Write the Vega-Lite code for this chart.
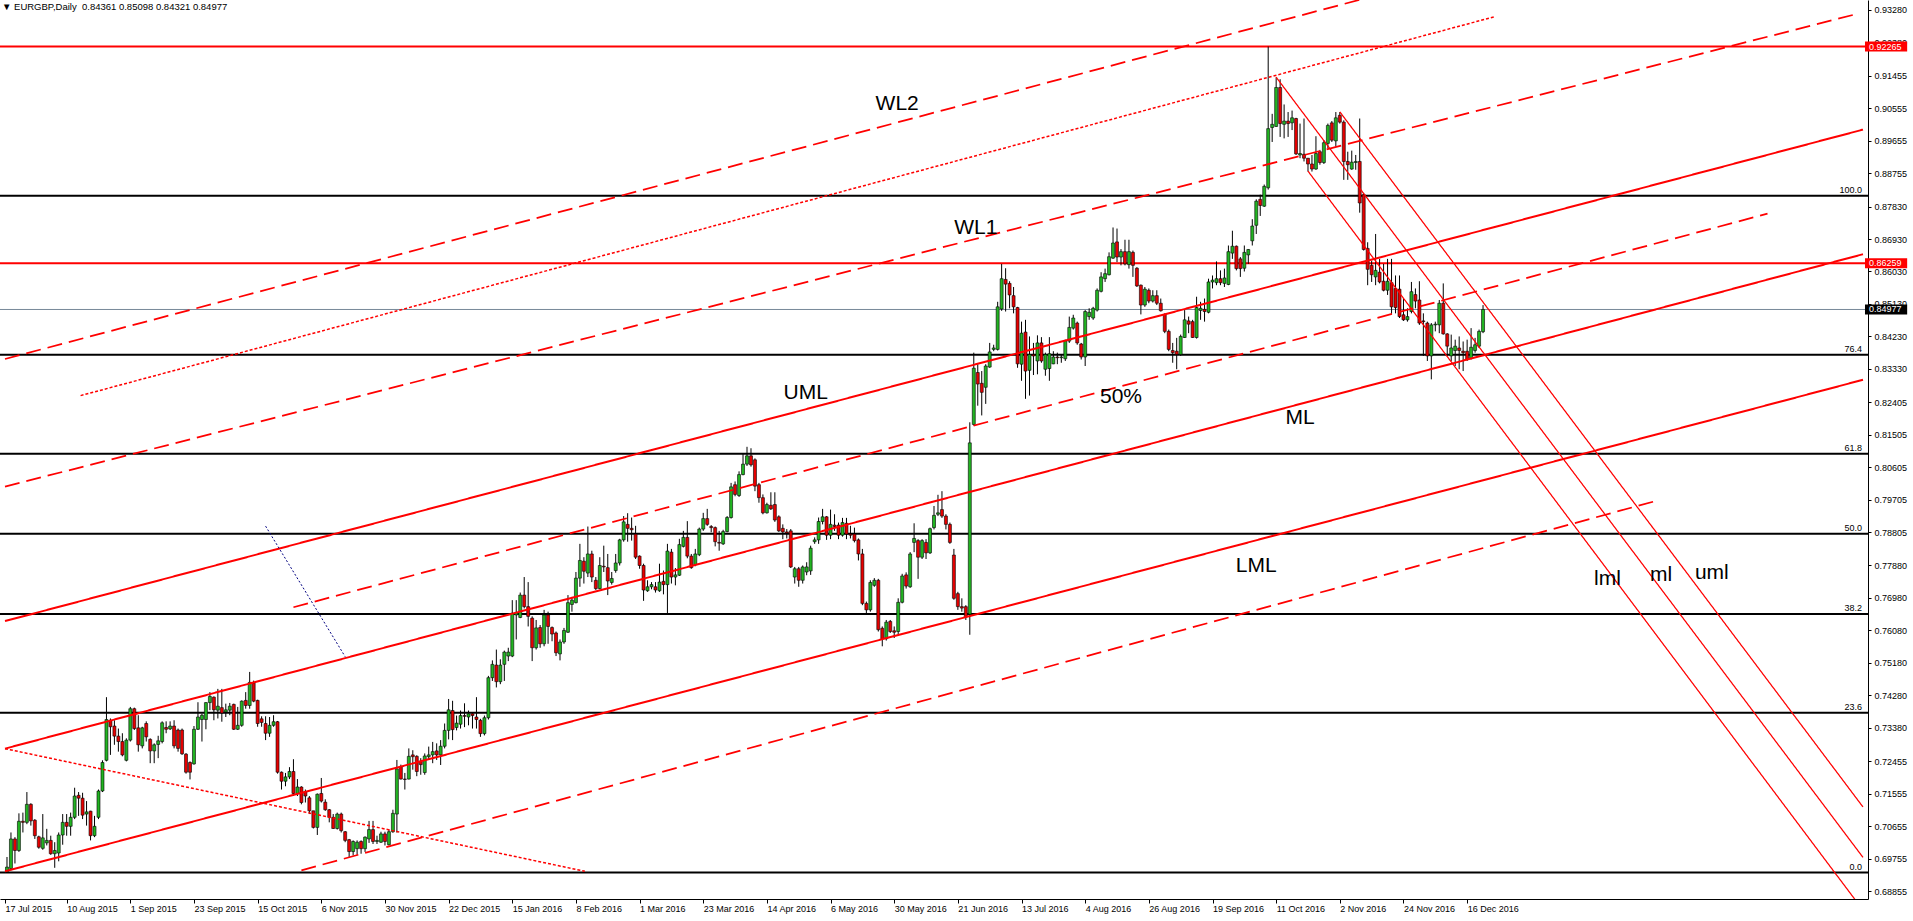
{
  "$schema": "https://vega.github.io/schema/vega-lite/v6.json",
  "width": 1868,
  "height": 899,
  "autosize": "none",
  "padding": {"left": 0, "top": 0, "right": 45, "bottom": 22},
  "background": "#ffffff",
  "title": {
    "text": "\u25bc EURGBP,Daily\u00a0 0.84361 0.85098 0.84321 0.84977",
    "anchor": "start", "frame": "group", "offset": -11, "dx": 2,
    "font": "Liberation Sans", "fontSize": 9.5, "fontWeight": "normal", "color": "#000000"
  },
  "config": {
    "view": {"stroke": null},
    "axis": {"grid": false, "labelOverlap": false}
  },
  "datasets": {
    "candles": [
      {"o":0.6939,"h":0.6980,"l":0.6937,"c":0.6952},{"o":0.6948,"h":0.7048,"l":0.6943,"c":0.7030},{"o":0.7030,"h":0.7035,"l":0.6962,"c":0.6998},{"o":0.6998,"h":0.7101,"l":0.6994,"c":0.7079},
      {"o":0.7079,"h":0.7103,"l":0.7048,"c":0.7076},{"o":0.7076,"h":0.7160,"l":0.7071,"c":0.7126},{"o":0.7126,"h":0.7129,"l":0.7067,"c":0.7080},{"o":0.7082,"h":0.7085,"l":0.7030,"c":0.7039},
      {"o":0.7036,"h":0.7039,"l":0.7003,"c":0.7007},{"o":0.7004,"h":0.7099,"l":0.7000,"c":0.7033},{"o":0.7019,"h":0.7058,"l":0.7012,"c":0.7026},{"o":0.7026,"h":0.7039,"l":0.6986,"c":0.6989},
      {"o":0.6989,"h":0.7021,"l":0.6950,"c":0.6998},{"o":0.6991,"h":0.7048,"l":0.6968,"c":0.7041},{"o":0.7041,"h":0.7099,"l":0.7014,"c":0.7076},{"o":0.7076,"h":0.7099,"l":0.7039,"c":0.7065},
      {"o":0.7065,"h":0.7103,"l":0.7039,"c":0.7090},{"o":0.7090,"h":0.7172,"l":0.7085,"c":0.7149},{"o":0.7151,"h":0.7160,"l":0.7094,"c":0.7143},{"o":0.7143,"h":0.7158,"l":0.7085,"c":0.7096},
      {"o":0.7099,"h":0.7135,"l":0.7067,"c":0.7105},{"o":0.7107,"h":0.7108,"l":0.7026,"c":0.7039},{"o":0.7039,"h":0.7094,"l":0.7035,"c":0.7065},{"o":0.7090,"h":0.7167,"l":0.7085,"c":0.7163},
      {"o":0.7163,"h":0.7248,"l":0.7160,"c":0.7242},{"o":0.7248,"h":0.7423,"l":0.7245,"c":0.7361},{"o":0.7359,"h":0.7364,"l":0.7263,"c":0.7341},{"o":0.7343,"h":0.7359,"l":0.7291,"c":0.7315},
      {"o":0.7315,"h":0.7336,"l":0.7272,"c":0.7300},{"o":0.7300,"h":0.7323,"l":0.7259,"c":0.7263},{"o":0.7248,"h":0.7309,"l":0.7245,"c":0.7304},{"o":0.7304,"h":0.7396,"l":0.7300,"c":0.7391},
      {"o":0.7391,"h":0.7394,"l":0.7332,"c":0.7336},{"o":0.7338,"h":0.7373,"l":0.7272,"c":0.7291},{"o":0.7288,"h":0.7341,"l":0.7281,"c":0.7338},{"o":0.7350,"h":0.7356,"l":0.7300,"c":0.7313},
      {"o":0.7306,"h":0.7309,"l":0.7240,"c":0.7274},{"o":0.7274,"h":0.7295,"l":0.7240,"c":0.7291},{"o":0.7292,"h":0.7316,"l":0.7254,"c":0.7302},{"o":0.7300,"h":0.7356,"l":0.7295,"c":0.7352},
      {"o":0.7339,"h":0.7356,"l":0.7323,"c":0.7334},{"o":0.7335,"h":0.7356,"l":0.7332,"c":0.7343},{"o":0.7343,"h":0.7359,"l":0.7281,"c":0.7288},{"o":0.7332,"h":0.7336,"l":0.7272,"c":0.7281},
      {"o":0.7332,"h":0.7336,"l":0.7263,"c":0.7266},{"o":0.7265,"h":0.7268,"l":0.7211,"c":0.7215},{"o":0.7242,"h":0.7245,"l":0.7195,"c":0.7215},{"o":0.7238,"h":0.7343,"l":0.7236,"c":0.7334},
      {"o":0.7334,"h":0.7409,"l":0.7332,"c":0.7368},{"o":0.7361,"h":0.7377,"l":0.7300,"c":0.7373},{"o":0.7361,"h":0.7409,"l":0.7334,"c":0.7408},{"o":0.7408,"h":0.7437,"l":0.7387,"c":0.7425},
      {"o":0.7423,"h":0.7425,"l":0.7359,"c":0.7388},{"o":0.7387,"h":0.7446,"l":0.7364,"c":0.7398},{"o":0.7394,"h":0.7446,"l":0.7355,"c":0.7379},{"o":0.7382,"h":0.7405,"l":0.7368,"c":0.7388},
      {"o":0.7387,"h":0.7407,"l":0.7373,"c":0.7398},{"o":0.7403,"h":0.7405,"l":0.7332,"c":0.7334},{"o":0.7334,"h":0.7396,"l":0.7332,"c":0.7345},{"o":0.7345,"h":0.7414,"l":0.7341,"c":0.7412},
      {"o":0.7414,"h":0.7437,"l":0.7391,"c":0.7400},{"o":0.7400,"h":0.7493,"l":0.7391,"c":0.7464},{"o":0.7462,"h":0.7469,"l":0.7409,"c":0.7412},{"o":0.7414,"h":0.7416,"l":0.7341,"c":0.7350},
      {"o":0.7363,"h":0.7370,"l":0.7341,"c":0.7353},{"o":0.7350,"h":0.7370,"l":0.7304,"c":0.7323},{"o":0.7323,"h":0.7368,"l":0.7313,"c":0.7345},{"o":0.7345,"h":0.7373,"l":0.7341,"c":0.7355},
      {"o":0.7355,"h":0.7357,"l":0.7211,"c":0.7215},{"o":0.7215,"h":0.7217,"l":0.7167,"c":0.7190},{"o":0.7190,"h":0.7213,"l":0.7176,"c":0.7202},{"o":0.7202,"h":0.7229,"l":0.7196,"c":0.7217},
      {"o":0.7217,"h":0.7251,"l":0.7149,"c":0.7156},{"o":0.7156,"h":0.7196,"l":0.7149,"c":0.7174},{"o":0.7174,"h":0.7176,"l":0.7126,"c":0.7131},{"o":0.7160,"h":0.7167,"l":0.7131,"c":0.7149},
      {"o":0.7144,"h":0.7149,"l":0.7099,"c":0.7108},{"o":0.7108,"h":0.7108,"l":0.7059,"c":0.7062},{"o":0.7062,"h":0.7156,"l":0.7041,"c":0.7154},{"o":0.7156,"h":0.7199,"l":0.7131,"c":0.7135},
      {"o":0.7132,"h":0.7140,"l":0.7108,"c":0.7111},{"o":0.7111,"h":0.7113,"l":0.7076,"c":0.7090},{"o":0.7090,"h":0.7099,"l":0.7058,"c":0.7059},{"o":0.7059,"h":0.7103,"l":0.7056,"c":0.7099},
      {"o":0.7099,"h":0.7103,"l":0.7048,"c":0.7053},{"o":0.7050,"h":0.7052,"l":0.7021,"c":0.7026},{"o":0.7028,"h":0.7030,"l":0.6980,"c":0.6995},{"o":0.6995,"h":0.7026,"l":0.6984,"c":0.7023},
      {"o":0.7003,"h":0.7026,"l":0.6986,"c":0.7021},{"o":0.7023,"h":0.7026,"l":0.6989,"c":0.7003},{"o":0.7003,"h":0.7037,"l":0.6994,"c":0.7035},{"o":0.7030,"h":0.7080,"l":0.7019,"c":0.7056},
      {"o":0.7056,"h":0.7080,"l":0.7016,"c":0.7023},{"o":0.7023,"h":0.7039,"l":0.7016,"c":0.7026},{"o":0.7021,"h":0.7050,"l":0.7019,"c":0.7044},{"o":0.7044,"h":0.7050,"l":0.7012,"c":0.7023},
      {"o":0.7014,"h":0.7056,"l":0.7012,"c":0.7050},{"o":0.7050,"h":0.7111,"l":0.7047,"c":0.7101},{"o":0.7099,"h":0.7249,"l":0.7048,"c":0.7224},{"o":0.7229,"h":0.7236,"l":0.7195,"c":0.7196},
      {"o":0.7196,"h":0.7213,"l":0.7167,"c":0.7195},{"o":0.7196,"h":0.7281,"l":0.7195,"c":0.7259},{"o":0.7263,"h":0.7276,"l":0.7222,"c":0.7258},{"o":0.7259,"h":0.7262,"l":0.7204,"c":0.7217},
      {"o":0.7245,"h":0.7254,"l":0.7208,"c":0.7236},{"o":0.7214,"h":0.7267,"l":0.7208,"c":0.7260},{"o":0.7258,"h":0.7286,"l":0.7249,"c":0.7263},{"o":0.7263,"h":0.7299,"l":0.7240,"c":0.7272},
      {"o":0.7274,"h":0.7295,"l":0.7249,"c":0.7263},{"o":0.7263,"h":0.7304,"l":0.7235,"c":0.7287},{"o":0.7287,"h":0.7350,"l":0.7281,"c":0.7331},{"o":0.7331,"h":0.7418,"l":0.7306,"c":0.7388},
      {"o":0.7386,"h":0.7413,"l":0.7304,"c":0.7333},{"o":0.7339,"h":0.7372,"l":0.7331,"c":0.7351},{"o":0.7348,"h":0.7386,"l":0.7336,"c":0.7372},{"o":0.7372,"h":0.7406,"l":0.7340,"c":0.7370},
      {"o":0.7368,"h":0.7386,"l":0.7345,"c":0.7377},{"o":0.7377,"h":0.7381,"l":0.7336,"c":0.7372},{"o":0.7368,"h":0.7423,"l":0.7336,"c":0.7361},{"o":0.7359,"h":0.7363,"l":0.7313,"c":0.7322},
      {"o":0.7322,"h":0.7372,"l":0.7317,"c":0.7366},{"o":0.7366,"h":0.7482,"l":0.7361,"c":0.7477},{"o":0.7477,"h":0.7525,"l":0.7468,"c":0.7514},{"o":0.7512,"h":0.7555,"l":0.7450,"c":0.7466},
      {"o":0.7466,"h":0.7528,"l":0.7459,"c":0.7512},{"o":0.7514,"h":0.7552,"l":0.7468,"c":0.7548},{"o":0.7537,"h":0.7560,"l":0.7523,"c":0.7548},{"o":0.7537,"h":0.7692,"l":0.7534,"c":0.7656},
      {"o":0.7651,"h":0.7692,"l":0.7583,"c":0.7658},{"o":0.7644,"h":0.7713,"l":0.7642,"c":0.7706},{"o":0.7706,"h":0.7756,"l":0.7669,"c":0.7674},{"o":0.7674,"h":0.7742,"l":0.7619,"c":0.7647},
      {"o":0.7642,"h":0.7647,"l":0.7523,"c":0.7560},{"o":0.7560,"h":0.7637,"l":0.7555,"c":0.7615},{"o":0.7616,"h":0.7623,"l":0.7560,"c":0.7571},{"o":0.7571,"h":0.7665,"l":0.7564,"c":0.7651},
      {"o":0.7651,"h":0.7660,"l":0.7571,"c":0.7619},{"o":0.7616,"h":0.7619,"l":0.7578,"c":0.7598},{"o":0.7601,"h":0.7605,"l":0.7537,"c":0.7546},{"o":0.7543,"h":0.7583,"l":0.7525,"c":0.7576},
      {"o":0.7576,"h":0.7615,"l":0.7571,"c":0.7608},{"o":0.7603,"h":0.7706,"l":0.7601,"c":0.7685},{"o":0.7680,"h":0.7701,"l":0.7660,"c":0.7692},{"o":0.7685,"h":0.7770,"l":0.7683,"c":0.7753},
      {"o":0.7753,"h":0.7848,"l":0.7729,"c":0.7802},{"o":0.7800,"h":0.7811,"l":0.7738,"c":0.7772},{"o":0.7767,"h":0.7896,"l":0.7756,"c":0.7820},{"o":0.7820,"h":0.7829,"l":0.7742,"c":0.7756},
      {"o":0.7747,"h":0.7756,"l":0.7720,"c":0.7724},{"o":0.7724,"h":0.7811,"l":0.7722,"c":0.7788},{"o":0.7786,"h":0.7843,"l":0.7770,"c":0.7784},{"o":0.7782,"h":0.7820,"l":0.7706,"c":0.7745},
      {"o":0.7741,"h":0.7770,"l":0.7735,"c":0.7752},{"o":0.7774,"h":0.7820,"l":0.7768,"c":0.7795},{"o":0.7795,"h":0.7862,"l":0.7788,"c":0.7859},{"o":0.7859,"h":0.7925,"l":0.7854,"c":0.7909},
      {"o":0.7902,"h":0.7933,"l":0.7854,"c":0.7891},{"o":0.7891,"h":0.7921,"l":0.7857,"c":0.7887},{"o":0.7875,"h":0.7898,"l":0.7806,"c":0.7811},{"o":0.7814,"h":0.7816,"l":0.7779,"c":0.7788},
      {"o":0.7788,"h":0.7793,"l":0.7690,"c":0.7720},{"o":0.7718,"h":0.7747,"l":0.7715,"c":0.7729},{"o":0.7729,"h":0.7742,"l":0.7722,"c":0.7735},{"o":0.7729,"h":0.7742,"l":0.7713,"c":0.7720},
      {"o":0.7718,"h":0.7793,"l":0.7715,"c":0.7742},{"o":0.7744,"h":0.7774,"l":0.7708,"c":0.7735},{"o":0.7735,"h":0.7848,"l":0.7656,"c":0.7828},{"o":0.7825,"h":0.7834,"l":0.7738,"c":0.7756},
      {"o":0.7756,"h":0.7781,"l":0.7733,"c":0.7762},{"o":0.7761,"h":0.7862,"l":0.7759,"c":0.7846},{"o":0.7841,"h":0.7884,"l":0.7838,"c":0.7866},{"o":0.7866,"h":0.7911,"l":0.7808,"c":0.7814},
      {"o":0.7814,"h":0.7820,"l":0.7779,"c":0.7782},{"o":0.7790,"h":0.7834,"l":0.7786,"c":0.7820},{"o":0.7818,"h":0.7893,"l":0.7814,"c":0.7889},{"o":0.7889,"h":0.7934,"l":0.7884,"c":0.7918},
      {"o":0.7918,"h":0.7945,"l":0.7898,"c":0.7902},{"o":0.7896,"h":0.7900,"l":0.7880,"c":0.7893},{"o":0.7893,"h":0.7896,"l":0.7841,"c":0.7854},{"o":0.7852,"h":0.7884,"l":0.7829,"c":0.7850},
      {"o":0.7848,"h":0.7887,"l":0.7845,"c":0.7882},{"o":0.7882,"h":0.7925,"l":0.7880,"c":0.7921},{"o":0.7921,"h":0.8017,"l":0.7918,"c":0.8006},{"o":0.8012,"h":0.8021,"l":0.7980,"c":0.7985},
      {"o":0.7982,"h":0.8049,"l":0.7978,"c":0.8040},{"o":0.8040,"h":0.8099,"l":0.8038,"c":0.8069},{"o":0.8069,"h":0.8117,"l":0.8064,"c":0.8092},{"o":0.8092,"h":0.8113,"l":0.8062,"c":0.8067},
      {"o":0.8081,"h":0.8085,"l":0.7994,"c":0.8008},{"o":0.8012,"h":0.8017,"l":0.7962,"c":0.7976},{"o":0.7976,"h":0.7985,"l":0.7930,"c":0.7934},{"o":0.7934,"h":0.7962,"l":0.7932,"c":0.7957},
      {"o":0.7955,"h":0.7991,"l":0.7942,"c":0.7945},{"o":0.7957,"h":0.7991,"l":0.7909,"c":0.7914},{"o":0.7923,"h":0.7927,"l":0.7881,"c":0.7884},{"o":0.7891,"h":0.7902,"l":0.7861,"c":0.7881},
      {"o":0.7881,"h":0.7889,"l":0.7863,"c":0.7878},{"o":0.7884,"h":0.7889,"l":0.7781,"c":0.7784},{"o":0.7756,"h":0.7784,"l":0.7738,"c":0.7779},{"o":0.7779,"h":0.7784,"l":0.7729,"c":0.7747},
      {"o":0.7747,"h":0.7788,"l":0.7738,"c":0.7784},{"o":0.7770,"h":0.7797,"l":0.7761,"c":0.7784},{"o":0.7773,"h":0.7843,"l":0.7762,"c":0.7836},{"o":0.7854,"h":0.7866,"l":0.7848,"c":0.7859},
      {"o":0.7859,"h":0.7921,"l":0.7848,"c":0.7910},{"o":0.7910,"h":0.7945,"l":0.7902,"c":0.7923},{"o":0.7923,"h":0.7925,"l":0.7859,"c":0.7872},{"o":0.7872,"h":0.7943,"l":0.7861,"c":0.7902},
      {"o":0.7900,"h":0.7930,"l":0.7884,"c":0.7896},{"o":0.7900,"h":0.7907,"l":0.7861,"c":0.7872},{"o":0.7872,"h":0.7920,"l":0.7868,"c":0.7907},{"o":0.7905,"h":0.7920,"l":0.7861,"c":0.7875},
      {"o":0.7875,"h":0.7898,"l":0.7863,"c":0.7872},{"o":0.7875,"h":0.7893,"l":0.7852,"c":0.7857},{"o":0.7859,"h":0.7863,"l":0.7802,"c":0.7820},{"o":0.7820,"h":0.7834,"l":0.7678,"c":0.7683},
      {"o":0.7683,"h":0.7688,"l":0.7651,"c":0.7665},{"o":0.7665,"h":0.7747,"l":0.7660,"c":0.7741},{"o":0.7733,"h":0.7753,"l":0.7729,"c":0.7747},{"o":0.7747,"h":0.7751,"l":0.7605,"c":0.7610},
      {"o":0.7614,"h":0.7619,"l":0.7564,"c":0.7585},{"o":0.7585,"h":0.7637,"l":0.7580,"c":0.7631},{"o":0.7633,"h":0.7637,"l":0.7601,"c":0.7605},{"o":0.7607,"h":0.7619,"l":0.7587,"c":0.7603},
      {"o":0.7605,"h":0.7697,"l":0.7596,"c":0.7686},{"o":0.7686,"h":0.7765,"l":0.7683,"c":0.7759},{"o":0.7762,"h":0.7769,"l":0.7724,"c":0.7731},{"o":0.7729,"h":0.7825,"l":0.7726,"c":0.7820},
      {"o":0.7852,"h":0.7905,"l":0.7825,"c":0.7863},{"o":0.7857,"h":0.7861,"l":0.7751,"c":0.7811},{"o":0.7811,"h":0.7861,"l":0.7806,"c":0.7857},{"o":0.7852,"h":0.7861,"l":0.7806,"c":0.7823},
      {"o":0.7823,"h":0.7893,"l":0.7820,"c":0.7890},{"o":0.7893,"h":0.7953,"l":0.7888,"c":0.7927},{"o":0.7930,"h":0.7984,"l":0.7925,"c":0.7934},{"o":0.7943,"h":0.7994,"l":0.7920,"c":0.7925},
      {"o":0.7925,"h":0.7930,"l":0.7888,"c":0.7902},{"o":0.7902,"h":0.7907,"l":0.7848,"c":0.7852},{"o":0.7817,"h":0.7834,"l":0.7693,"c":0.7697},{"o":0.7710,"h":0.7715,"l":0.7665,"c":0.7674},
      {"o":0.7674,"h":0.7697,"l":0.7660,"c":0.7670},{"o":0.7674,"h":0.7678,"l":0.7637,"c":0.7646},{"o":0.7653,"h":0.8185,"l":0.7596,"c":0.8128},{"o":0.8179,"h":0.8378,"l":0.8176,"c":0.8335},
      {"o":0.8323,"h":0.8346,"l":0.8231,"c":0.8291},{"o":0.8293,"h":0.8327,"l":0.8204,"c":0.8268},{"o":0.8282,"h":0.8346,"l":0.8236,"c":0.8341},{"o":0.8338,"h":0.8405,"l":0.8336,"c":0.8380},
      {"o":0.8387,"h":0.8400,"l":0.8382,"c":0.8391},{"o":0.8387,"h":0.8519,"l":0.8384,"c":0.8505},{"o":0.8499,"h":0.8624,"l":0.8494,"c":0.8583},{"o":0.8581,"h":0.8612,"l":0.8492,"c":0.8568},
      {"o":0.8570,"h":0.8576,"l":0.8501,"c":0.8538},{"o":0.8536,"h":0.8560,"l":0.8487,"c":0.8505},{"o":0.8503,"h":0.8505,"l":0.8336,"c":0.8347},{"o":0.8346,"h":0.8464,"l":0.8300,"c":0.8432},
      {"o":0.8435,"h":0.8469,"l":0.8250,"c":0.8327},{"o":0.8329,"h":0.8423,"l":0.8259,"c":0.8373},{"o":0.8373,"h":0.8405,"l":0.8316,"c":0.8369},{"o":0.8355,"h":0.8426,"l":0.8318,"c":0.8405},
      {"o":0.8405,"h":0.8421,"l":0.8350,"c":0.8355},{"o":0.8332,"h":0.8378,"l":0.8314,"c":0.8373},{"o":0.8334,"h":0.8421,"l":0.8300,"c":0.8375},{"o":0.8347,"h":0.8382,"l":0.8346,"c":0.8366},
      {"o":0.8366,"h":0.8378,"l":0.8346,"c":0.8364},{"o":0.8364,"h":0.8373,"l":0.8350,"c":0.8366},{"o":0.8361,"h":0.8414,"l":0.8355,"c":0.8411},{"o":0.8410,"h":0.8478,"l":0.8405,"c":0.8448},
      {"o":0.8446,"h":0.8483,"l":0.8442,"c":0.8474},{"o":0.8460,"h":0.8464,"l":0.8400,"c":0.8405},{"o":0.8402,"h":0.8405,"l":0.8359,"c":0.8366},{"o":0.8366,"h":0.8496,"l":0.8341,"c":0.8492},
      {"o":0.8478,"h":0.8501,"l":0.8469,"c":0.8490},{"o":0.8474,"h":0.8505,"l":0.8469,"c":0.8501},{"o":0.8496,"h":0.8556,"l":0.8492,"c":0.8551},{"o":0.8548,"h":0.8601,"l":0.8545,"c":0.8588},
      {"o":0.8583,"h":0.8611,"l":0.8574,"c":0.8597},{"o":0.8594,"h":0.8656,"l":0.8592,"c":0.8644},{"o":0.8640,"h":0.8725,"l":0.8638,"c":0.8682},{"o":0.8685,"h":0.8722,"l":0.8629,"c":0.8643},
      {"o":0.8643,"h":0.8665,"l":0.8620,"c":0.8658},{"o":0.8658,"h":0.8691,"l":0.8620,"c":0.8624},{"o":0.8622,"h":0.8691,"l":0.8611,"c":0.8658},{"o":0.8656,"h":0.8661,"l":0.8588,"c":0.8620},
      {"o":0.8612,"h":0.8615,"l":0.8560,"c":0.8563},{"o":0.8565,"h":0.8567,"l":0.8484,"c":0.8510},{"o":0.8510,"h":0.8560,"l":0.8505,"c":0.8554},{"o":0.8551,"h":0.8556,"l":0.8515,"c":0.8521},
      {"o":0.8521,"h":0.8551,"l":0.8517,"c":0.8536},{"o":0.8536,"h":0.8551,"l":0.8510,"c":0.8515},{"o":0.8515,"h":0.8528,"l":0.8492,"c":0.8494},{"o":0.8484,"h":0.8487,"l":0.8432,"c":0.8437},
      {"o":0.8437,"h":0.8442,"l":0.8382,"c":0.8387},{"o":0.8384,"h":0.8405,"l":0.8350,"c":0.8378},{"o":0.8382,"h":0.8419,"l":0.8332,"c":0.8373},{"o":0.8373,"h":0.8428,"l":0.8369,"c":0.8423},
      {"o":0.8420,"h":0.8496,"l":0.8419,"c":0.8469},{"o":0.8466,"h":0.8478,"l":0.8432,"c":0.8457},{"o":0.8464,"h":0.8469,"l":0.8419,"c":0.8420},{"o":0.8420,"h":0.8533,"l":0.8417,"c":0.8503},
      {"o":0.8495,"h":0.8519,"l":0.8469,"c":0.8501},{"o":0.8498,"h":0.8528,"l":0.8464,"c":0.8492},{"o":0.8490,"h":0.8583,"l":0.8487,"c":0.8574},{"o":0.8574,"h":0.8592,"l":0.8556,"c":0.8579},
      {"o":0.8572,"h":0.8631,"l":0.8565,"c":0.8583},{"o":0.8583,"h":0.8606,"l":0.8565,"c":0.8572},{"o":0.8570,"h":0.8611,"l":0.8560,"c":0.8585},{"o":0.8567,"h":0.8675,"l":0.8565,"c":0.8658},
      {"o":0.8654,"h":0.8716,"l":0.8638,"c":0.8673},{"o":0.8673,"h":0.8675,"l":0.8606,"c":0.8611},{"o":0.8638,"h":0.8643,"l":0.8588,"c":0.8611},{"o":0.8612,"h":0.8675,"l":0.8603,"c":0.8656},
      {"o":0.8649,"h":0.8665,"l":0.8624,"c":0.8664},{"o":0.8688,"h":0.8748,"l":0.8675,"c":0.8729},{"o":0.8731,"h":0.8803,"l":0.8707,"c":0.8798},{"o":0.8803,"h":0.8816,"l":0.8757,"c":0.8786},
      {"o":0.8784,"h":0.8844,"l":0.8782,"c":0.8839},{"o":0.8835,"h":0.92265,"l":0.8830,"c":0.8999},{"o":0.9002,"h":0.9040,"l":0.8962,"c":0.9011},{"o":0.9005,"h":0.9141,"l":0.9004,"c":0.9113},
      {"o":0.9113,"h":0.9136,"l":0.8976,"c":0.9013},{"o":0.9011,"h":0.9066,"l":0.8972,"c":0.9020},{"o":0.9020,"h":0.9045,"l":0.8976,"c":0.9013},{"o":0.9015,"h":0.9049,"l":0.8995,"c":0.9029},
      {"o":0.9027,"h":0.9029,"l":0.8926,"c":0.8929},{"o":0.8926,"h":0.9013,"l":0.8917,"c":0.8930},{"o":0.8928,"h":0.9027,"l":0.8908,"c":0.8917},{"o":0.8917,"h":0.8917,"l":0.8880,"c":0.8901},
      {"o":0.8901,"h":0.8926,"l":0.8880,"c":0.8887},{"o":0.8887,"h":0.8978,"l":0.8885,"c":0.8930},{"o":0.8935,"h":0.8940,"l":0.8899,"c":0.8905},{"o":0.8905,"h":0.8967,"l":0.8901,"c":0.8960},
      {"o":0.8958,"h":0.9013,"l":0.8944,"c":0.9008},{"o":0.9015,"h":0.9020,"l":0.8962,"c":0.8967},{"o":0.8965,"h":0.9045,"l":0.8949,"c":0.9029},{"o":0.9036,"h":0.9045,"l":0.9013,"c":0.9017},
      {"o":0.9017,"h":0.9022,"l":0.8857,"c":0.8908},{"o":0.8908,"h":0.8935,"l":0.8857,"c":0.8899},{"o":0.8887,"h":0.8938,"l":0.8885,"c":0.8906},{"o":0.8905,"h":0.8926,"l":0.8885,"c":0.8908},
      {"o":0.8908,"h":0.9027,"l":0.8766,"c":0.8793},{"o":0.8816,"h":0.8821,"l":0.8661,"c":0.8664},{"o":0.8667,"h":0.8684,"l":0.8565,"c":0.8609},{"o":0.8620,"h":0.8633,"l":0.8574,"c":0.8594},
      {"o":0.8588,"h":0.8707,"l":0.8565,"c":0.8606},{"o":0.8601,"h":0.8638,"l":0.8570,"c":0.8574},{"o":0.8576,"h":0.8624,"l":0.8548,"c":0.8551},{"o":0.8551,"h":0.8638,"l":0.8538,"c":0.8576},
      {"o":0.8572,"h":0.8638,"l":0.8484,"c":0.8505},{"o":0.8556,"h":0.8592,"l":0.8487,"c":0.8503},{"o":0.8554,"h":0.8592,"l":0.8474,"c":0.8478},{"o":0.8483,"h":0.8528,"l":0.8466,"c":0.8469},
      {"o":0.8469,"h":0.8501,"l":0.8464,"c":0.8478},{"o":0.8492,"h":0.8574,"l":0.8487,"c":0.8547},{"o":0.8539,"h":0.8556,"l":0.8501,"c":0.8521},{"o":0.8524,"h":0.8576,"l":0.8455,"c":0.8460},
      {"o":0.8466,"h":0.8487,"l":0.8369,"c":0.8464},{"o":0.8460,"h":0.8464,"l":0.8355,"c":0.8369},{"o":0.8369,"h":0.8460,"l":0.8304,"c":0.8455},{"o":0.8455,"h":0.8464,"l":0.8437,"c":0.8457},
      {"o":0.8455,"h":0.8524,"l":0.8432,"c":0.8515},{"o":0.8515,"h":0.8570,"l":0.8428,"c":0.8430},{"o":0.8430,"h":0.8432,"l":0.8369,"c":0.8396},{"o":0.8369,"h":0.8428,"l":0.8355,"c":0.8391},
      {"o":0.8384,"h":0.8414,"l":0.8341,"c":0.8396},{"o":0.8391,"h":0.8423,"l":0.8332,"c":0.8384},{"o":0.8382,"h":0.8409,"l":0.8327,"c":0.8378},{"o":0.8382,"h":0.8414,"l":0.8355,"c":0.8359},
      {"o":0.8362,"h":0.8446,"l":0.8359,"c":0.8393},{"o":0.8384,"h":0.8419,"l":0.8378,"c":0.8400},{"o":0.8396,"h":0.8442,"l":0.8391,"c":0.8437},{"o":0.84361,"h":0.85098,"l":0.84321,"c":0.84977}
    ],
    "levels": [
      {"p": 0.92265, "k": "res", "t": ""},
      {"p": 0.86259, "k": "res", "t": ""},
      {"p": 0.84977, "k": "cur", "t": ""},
      {"p": 0.88127, "k": "fib", "t": "100.0"},
      {"p": 0.83721, "k": "fib", "t": "76.4"},
      {"p": 0.80980, "k": "fib", "t": "61.8"},
      {"p": 0.78760, "k": "fib", "t": "50.0"},
      {"p": 0.76539, "k": "fib", "t": "38.2"},
      {"p": 0.73799, "k": "fib", "t": "23.6"},
      {"p": 0.69368, "k": "fib", "t": "0.0"}
    ],
    "lines": [
      {"x": 0.5, "y": 0.76339, "x2": 467.5, "y2": 0.89963, "k": "fork"},
      {"x": 0.5, "y": 0.72803, "x2": 467.5, "y2": 0.86509, "k": "fork"},
      {"x": 0.5, "y": 0.69404, "x2": 467.5, "y2": 0.83028, "k": "fork"},
      {"x": 0.5, "y": 0.80067, "x2": 466, "y2": 0.93170, "k": "dash"},
      {"x": 0.5, "y": 0.83604, "x2": 350.5, "y2": 0.93839, "k": "dash"},
      {"x": 73, "y": 0.76723, "x2": 443.5, "y2": 0.87633, "k": "dash"},
      {"x": 75, "y": 0.69431, "x2": 415, "y2": 0.79656, "k": "dash"},
      {"x": 19.5, "y": 0.82589, "x2": 374.75, "y2": 0.93088, "k": "dot"},
      {"x": 0.5, "y": 0.72803, "x2": 146.25, "y2": 0.69404, "k": "dot"},
      {"x": 66, "y": 0.78971, "x2": 86, "y2": 0.75352, "k": "blue"},
      {"x": 320, "y": 0.91416, "x2": 467.5, "y2": 0.69788, "k": "thin"},
      {"x": 336, "y": 0.90456, "x2": 467.5, "y2": 0.71186, "k": "thin"},
      {"x": 328, "y": 0.88812, "x2": 466.5, "y2": 0.68472, "k": "thin"}
    ],
    "labels": [
      {"x": 224.75, "y": 0.90676, "t": "WL2"},
      {"x": 244.5, "y": 0.87222, "t": "WL1"},
      {"x": 201.75, "y": 0.82671, "t": "UML"},
      {"x": 281, "y": 0.82562, "t": "50%"},
      {"x": 326, "y": 0.81959, "t": "ML"},
      {"x": 315, "y": 0.77874, "t": "LML"},
      {"x": 403.25, "y": 0.77518, "t": "lml"},
      {"x": 416.75, "y": 0.77628, "t": "ml"},
      {"x": 429.5, "y": 0.77682, "t": "uml"}
    ]
  },
  "layer": [
    {
      "data": {"name": "levels"},
      "mark": {"type": "rule"},
      "encoding": {
        "y": {
          "field": "p", "type": "quantitative", "title": null,
          "scale": {"domain": [0.68774, 0.93417], "zero": false, "nice": false},
          "axis": {
            "orient": "right", "title": null, "grid": false, "tickCount": 200,
            "values": [0.9328, 0.9238, 0.91455, 0.90555, 0.89655, 0.88755, 0.8783, 0.8693, 0.8603, 0.8513, 0.8423, 0.8333, 0.82405, 0.81505, 0.80605, 0.79705, 0.78805, 0.7788, 0.7698, 0.7608, 0.7518, 0.7428, 0.7338, 0.72455, 0.71555, 0.70655, 0.69755, 0.68855],
            "format": ".5f", "labelFont": "Liberation Sans", "labelFontSize": 9, "labelColor": "#000000",
            "tickSize": 3, "tickColor": "#000000", "labelPadding": 3, "domainColor": "#000000", "domainWidth": 1,
            "labelOverlap": false, "labelFlush": false, "labelBound": false, "labelBaseline": "middle"
          }
        },
        "color": {"condition": [{"test": "datum.k == 'res'", "value": "#ff0000"}, {"test": "datum.k == 'cur'", "value": "#778899"}], "value": "#000000"},
        "strokeWidth": {"condition": {"test": "datum.k == 'cur'", "value": 1}, "value": 2}
      }
    },
    {
      "data": {"name": "candles"},
      "transform": [{"window": [{"op": "row_number", "as": "i"}]}],
      "mark": {"type": "rule", "color": "#000000", "strokeWidth": 1},
      "encoding": {
        "x": {
          "field": "i", "type": "quantitative", "title": null,
          "scale": {"domain": [0.5, 467.5], "zero": false, "nice": false},
          "axis": {
            "title": null, "grid": false, "tickCount": 200,
            "values": [0.5, 16, 32, 48, 64, 80, 96, 112, 128, 144, 160, 176, 192, 208, 224, 240, 256, 272, 288, 304, 320, 336, 352, 368],
            "labelExpr": "['17 Jul 2015','10 Aug 2015','1 Sep 2015','23 Sep 2015','15 Oct 2015','6 Nov 2015','30 Nov 2015','22 Dec 2015','15 Jan 2016','8 Feb 2016','1 Mar 2016','23 Mar 2016','14 Apr 2016','6 May 2016','30 May 2016','21 Jun 2016','13 Jul 2016','4 Aug 2016','26 Aug 2016','19 Sep 2016','11 Oct 2016','2 Nov 2016','24 Nov 2016','16 Dec 2016'][round(datum.value / 16)]",
            "labelAlign": "left", "labelFont": "Liberation Sans", "labelFontSize": 9, "labelColor": "#000000",
            "tickSize": 4, "tickColor": "#000000", "labelPadding": 1, "domainColor": "#000000", "domainWidth": 1,
            "labelOverlap": false, "labelFlush": false, "labelBound": false
          }
        },
        "y": {"field": "l", "type": "quantitative", "title": null},
        "y2": {"field": "h"}
      }
    },
    {
      "data": {"name": "candles"},
      "transform": [{"window": [{"op": "row_number", "as": "i"}]}],
      "mark": {"type": "bar", "size": 3, "stroke": "#000000", "strokeWidth": 0.6},
      "encoding": {
        "x": {"field": "i", "type": "quantitative", "title": null},
        "y": {"field": "o", "type": "quantitative", "title": null},
        "y2": {"field": "c"},
        "color": {"condition": {"test": "datum.c >= datum.o", "value": "#22b422"}, "value": "#e60000"}
      }
    },
    {
      "data": {"name": "lines"},
      "mark": {"type": "rule", "clip": true},
      "encoding": {
        "x": {"field": "x", "type": "quantitative", "title": null},
        "x2": {"field": "x2"},
        "y": {"field": "y", "type": "quantitative", "title": null},
        "y2": {"field": "y2"},
        "color": {"field": "k", "type": "nominal", "legend": null,
          "scale": {"domain": ["fork", "dash", "dot", "thin", "blue"], "range": ["#ff0000", "#ff0000", "#ff0000", "#ff0000", "#000080"]}},
        "strokeDash": {"field": "k", "type": "nominal", "legend": null,
          "scale": {"domain": ["fork", "dash", "dot", "thin", "blue"], "range": [[1, 0], [15, 7], [3, 2], [1, 0], [2, 2]]}},
        "strokeWidth": {"field": "k", "type": "ordinal", "legend": null,
          "scale": {"domain": ["fork", "dash", "dot", "thin", "blue"], "range": [2, 1, 1, 1, 1]}}
      }
    },
    {
      "data": {"name": "levels"},
      "transform": [{"filter": "datum.k == 'fib'"}],
      "mark": {"type": "text", "align": "right", "baseline": "bottom", "dx": -1, "dy": -1, "font": "Liberation Sans", "fontSize": 9, "color": "#000000"},
      "encoding": {
        "x": {"datum": 467.5},
        "y": {"field": "p", "type": "quantitative", "title": null},
        "text": {"field": "t"}
      }
    },
    {
      "data": {"name": "labels"},
      "mark": {"type": "text", "align": "center", "baseline": "middle", "font": "Liberation Sans", "fontSize": 21, "color": "#000000"},
      "encoding": {
        "x": {"field": "x", "type": "quantitative", "title": null},
        "y": {"field": "y", "type": "quantitative", "title": null},
        "text": {"field": "t"}
      }
    },
    {
      "data": {"name": "levels"},
      "transform": [{"filter": "datum.k != 'fib'"}],
      "mark": {"type": "bar", "orient": "horizontal", "size": 10},
      "encoding": {
        "x": {"datum": 468},
        "x2": {"datum": 478.6},
        "y": {"field": "p", "type": "quantitative", "title": null},
        "color": {"condition": {"test": "datum.k == 'cur'", "value": "#000000"}, "value": "#ff0000"}
      }
    },
    {
      "data": {"name": "levels"},
      "transform": [{"filter": "datum.k != 'fib'"}],
      "mark": {"type": "text", "align": "left", "baseline": "middle", "font": "Liberation Sans", "fontSize": 9, "color": "#ffffff"},
      "encoding": {
        "x": {"datum": 469},
        "y": {"field": "p", "type": "quantitative", "title": null},
        "text": {"field": "p", "format": ".5f"}
      }
    }
  ]
}
